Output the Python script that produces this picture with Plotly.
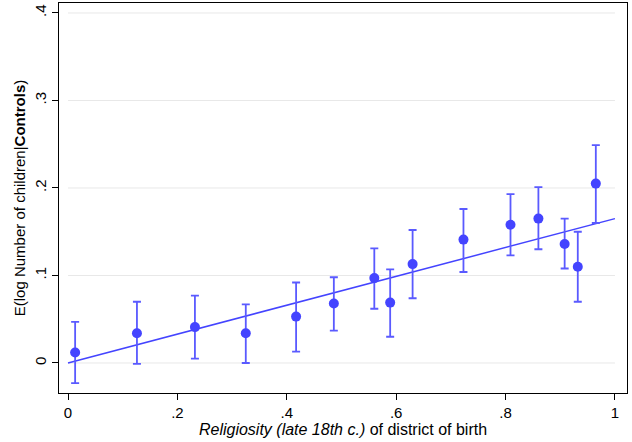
import plotly.graph_objects as go

# binned scatter values
religiosity = [0.013, 0.126, 0.232, 0.325, 0.417, 0.486, 0.560, 0.589, 0.630,
               0.723, 0.809, 0.860, 0.908, 0.932, 0.965]
log_children = [0.012, 0.034, 0.041, 0.034, 0.053, 0.068, 0.097, 0.069, 0.113,
                0.141, 0.158, 0.165, 0.136, 0.110, 0.205]
ci_upper = [0.047, 0.070, 0.077, 0.067, 0.092, 0.098, 0.131, 0.107, 0.152,
            0.176, 0.193, 0.201, 0.165, 0.150, 0.249]
ci_lower = [-0.023, -0.001, 0.005, 0.000, 0.013, 0.037, 0.062, 0.030, 0.074,
            0.104, 0.123, 0.130, 0.108, 0.070, 0.160]

# fitted line
fit_x = [0.0, 1.0]
fit_y = [0.0, 0.165]

x_ticks = [0, 0.2, 0.4, 0.6, 0.8, 1]
x_labels = ["0", ".2", ".4", ".6", ".8", "1"]
y_ticks = [0, 0.1, 0.2, 0.3, 0.4]
y_labels = ["0", ".1", ".2", ".3", ".4"]

blue = "#4444ff"
err_blue = "#5a5aff"

fig = go.Figure()

fig.add_trace(go.Scatter(
    x=fit_x, y=fit_y,
    mode="lines",
    line=dict(color=blue, width=1.5),
    hoverinfo="skip",
))

fig.add_trace(go.Scatter(
    x=religiosity, y=log_children,
    mode="markers",
    marker=dict(color=blue, size=10),
    error_y=dict(
        type="data", symmetric=False,
        array=[u - m for u, m in zip(ci_upper, log_children)],
        arrayminus=[m - l for m, l in zip(log_children, ci_lower)],
        color=err_blue, thickness=1.8, width=4,
    ),
))

# gridlines only across the data span, like Stata
for yt in y_ticks:
    fig.add_shape(type="line", xref="x", yref="y", x0=0, x1=1, y0=yt, y1=yt,
                  line=dict(color="#e8e8e8", width=1), layer="below")

fig.update_layout(
    width=632, height=442,
    margin=dict(l=59, r=5, t=3, b=49),
    paper_bgcolor="white",
    plot_bgcolor="white",
    showlegend=False,
    font=dict(family="Liberation Sans, Arial, sans-serif", size=15, color="black"),
)

fig.update_xaxes(
    range=[-0.0165, 1.022],
    tickvals=x_ticks, ticktext=x_labels,
    ticks="outside", ticklen=6, tickcolor="black",
    showgrid=False, zeroline=False,
    showline=True, linecolor="black", linewidth=1, mirror=True,
    title=dict(text="<i>Religiosity (late 18th c.)</i> of district of birth",
               font=dict(size=16), standoff=2),
)

fig.update_yaxes(
    range=[-0.0343, 0.4114],
    tickvals=y_ticks, ticktext=y_labels, tickangle=-90,
    ticks="outside", ticklen=6, tickcolor="black",
    showgrid=False, zeroline=False,
    showline=True, linecolor="black", linewidth=1, mirror=True,
    title=dict(text="E(log Number of children|<b>Controls</b>)",
               font=dict(size=15), standoff=2),
)

# drop the default page margin so the figure sits at the window's corner
fig.write_html("out.html", config={"displayModeBar": False},
               post_script="document.body.style.margin='0px';")
